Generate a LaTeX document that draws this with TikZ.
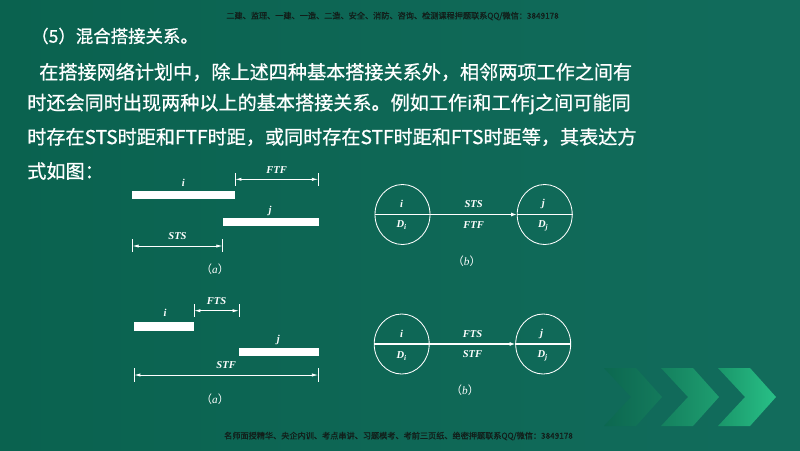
\documentclass[tikz,border=0pt]{standalone}
\usepackage{fontspec}
\setmainfont{Liberation Serif}
\newfontfamily\cjk{Noto Sans CJK SC}
\newfontfamily\cjkb[FakeBold=0.8]{Noto Sans CJK SC}
\usetikzlibrary{arrows.meta,shapes.geometric}
\definecolor{slideL}{RGB}{10,98,79}
\definecolor{slideR}{RGB}{18,108,92}
\definecolor{markc}{RGB}{18,30,26}
\definecolor{chevAl}{RGB}{12,104,80}
\definecolor{chevAr}{RGB}{20,122,92}
\definecolor{chevBl}{RGB}{20,128,94}
\definecolor{chevBr}{RGB}{30,158,112}
\definecolor{chevCl}{RGB}{26,150,106}
\definecolor{chevCr}{RGB}{40,192,135}

\begin{document}
\begin{tikzpicture}[x=0.025cm,y=-0.025cm,
		lbl/.style={font=\fontsize{7.5}{8}\selectfont\bfseries\itshape,text=white,inner sep=1pt},
		fig/.style={font=\fontsize{8}{9}\selectfont,text=white,inner sep=0pt},
		bar/.style={fill=white,inner sep=0pt,minimum height=0.21cm},
		dim/.style={white,line width=0.6pt,{Latex[length=0.16cm,width=0.08cm]}-{Latex[length=0.16cm,width=0.08cm]}},
		tick/.style={white,line width=0.5pt},
		job/.style={draw=white,line width=0.6pt,ellipse,inner sep=0pt,minimum width=1.375cm,minimum height=1.5cm},
		link/.style={white,line width=0.8pt},
		body/.style={font=\cjkb\fontsize{13.6}{14}\selectfont,text=white,anchor=west,inner sep=0pt},
		wm/.style={font=\cjkb\fontsize{5.8}{6}\selectfont,text=markc,inner sep=0pt}]
		\useasboundingbox (0,0) rectangle (800,450);
		\shade [left color=slideL,right color=slideR] (0,0) rectangle (800,450);
		\foreach \dx/\cl/\cr in {-114/chevAl/chevAr,-57/chevBl/chevBr,0/chevCl/chevCr}
			\shade [left color=\cl,right color=\cr,shift={(\dx,0)}] (718,368) -- (750,368) -- (776,397) -- (750,426) -- (718,426) -- (745,397) -- cycle;

		\node [wm] at (392.5,16) (wtop) {二建、监理、一建、一造、二造、安全、消防、咨询、检测课程押题联系QQ/微信：3849178};
		\node [wm] at (398.5,436) (wbot) {名师面授精华、央企内训、考点串讲、习题模考、考前三页纸、绝密押题联系QQ/微信：3849178};

		\node [body,font=\cjkb\fontsize{12.4}{13}\selectfont] at (31,36) (title) {（5）混合搭接关系。};
		\node [body] at (39,72) (l1) {在搭接网络计划中，除上述四种基本搭接关系外，相邻两项工作之间有};
		\node [body] at (27,104) (l2) {时还会同时出现两种以上的基本搭接关系。例如工作i和工作j之间可能同};
		\node [body] at (27,137) (l3) {时存在STS时距和FTF时距，或同时存在STF时距和FTS时距等，其表达方};
		\node [body] at (27,171) (l4) {式如图：};

		\node [bar,minimum width=2.575cm] at (183.5,195) (bi1) {};
		\node [bar,minimum width=2.4cm] at (270.7,221.7) (bj1) {};
		\node [lbl] at (183.3,182.7) (ti1) {i};
		\node [lbl] at (270,210.7) (tj1) {j};
		\coordinate (ftfa) at (235,179.3);
		\coordinate (ftfb) at (318.3,179.3);
		\coordinate (stsa) at (132.3,246);
		\coordinate (stsb) at (222.7,246);
		\draw [tick] (235,173) -- (235,186) (318.3,173) -- (318.3,186)
			(132.3,239) -- (132.3,252.3) (222.7,239) -- (222.7,252.3);
		\draw [dim] (ftfa) -- node [lbl,above=3pt] (tftf) {FTF} (ftfb);
		\draw [dim] (stsa) -- node [lbl,above=3pt] (tsts) {STS} (stsb);
		\node [fig] at (215,269.3) (fa1) {{\cjk （}\textit{a}{\cjk ）}};

		\node [job] at (402.5,214.5) (ni1) {};
		\node [job] at (544.7,214.5) (nj1) {};
		\node [lbl] at (401.7,204.3) (ni1t) {i};
		\node [lbl] at (401.7,225) (ni1d) {D\textsubscript{i}};
		\node [lbl] at (543.3,204.3) (nj1t) {j};
		\node [lbl] at (543.3,226) (nj1d) {D\textsubscript{j}};
		\draw [link] (ni1.west) -- (ni1.east);
		\draw [link,-{Latex[length=0.14cm,width=0.1cm]}] (ni1.east) -- node [lbl,above=3.5pt] (s1) {STS} node [lbl,below=3.5pt] (f1) {FTF} (nj1.west);
		\draw [link] (nj1.west) -- (nj1.east);
		\node [fig] at (466.7,261.7) (fb1) {{\cjk （}\textit{b}{\cjk ）}};

		\node [bar,minimum width=1.5cm] at (164,326.3) (bi2) {};
		\node [bar,minimum width=2cm] at (278.8,351.7) (bj2) {};
		\node [lbl] at (165,312.7) (ti2) {i};
		\node [lbl] at (278.3,340) (tj2) {j};
		\coordinate (ftsa) at (194,310.7);
		\coordinate (ftsb) at (239,310.7);
		\coordinate (stfa) at (134,375);
		\coordinate (stfb) at (318.3,375);
		\draw [tick] (194,304) -- (194,316.7) (239,304) -- (239,316.7)
			(134,368) -- (134,381.7) (318.3,368) -- (318.3,381.7);
		\draw [dim] (ftsa) -- node [lbl,above=3pt] (tfts) {FTS} (ftsb);
		\draw [dim] (stfa) -- node [lbl,above=3pt] (tstf) {STF} (stfb);
		\node [fig] at (215,399.3) (fa2) {{\cjk （}\textit{a}{\cjk ）}};

		\node [job] at (401.7,344) (ni2) {};
		\node [job] at (543.2,344) (nj2) {};
		\node [lbl] at (401.7,334.3) (ni2t) {i};
		\node [lbl] at (401.7,356) (ni2d) {D\textsubscript{i}};
		\node [lbl] at (541.7,334.3) (nj2t) {j};
		\node [lbl] at (542.7,356) (nj2d) {D\textsubscript{j}};
		\draw [link] (ni2.west) -- (ni2.east);
		\draw [link,-{Latex[length=0.14cm,width=0.1cm]}] (ni2.east) -- node [lbl,above=3.5pt] (s2) {FTS} node [lbl,below=3.5pt] (f2) {STF} (nj2.west);
		\draw [link] (nj2.west) -- (nj2.east);
		\node [fig] at (465,390) (fb2) {{\cjk （}\textit{b}{\cjk ）}};

	\end{tikzpicture}
\end{document}
